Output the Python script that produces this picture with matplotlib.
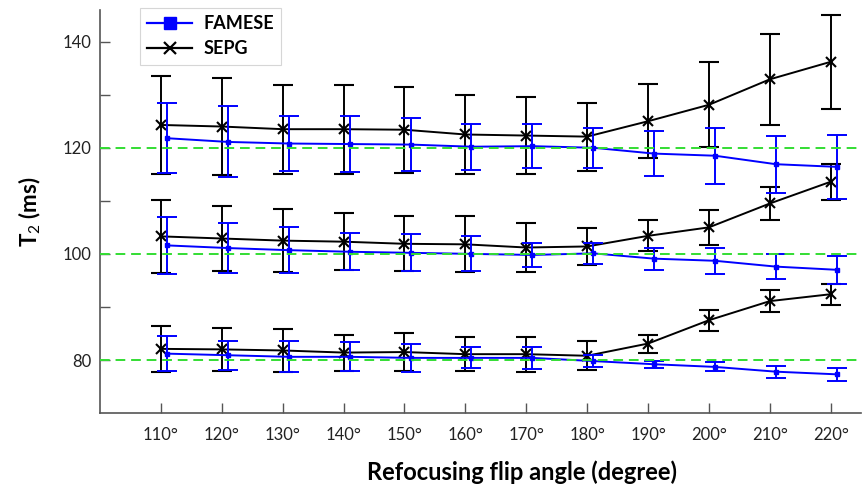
import numpy as np
import matplotlib
matplotlib.use("Agg")
import matplotlib.pyplot as plt
from matplotlib.lines import Line2D

plt.rcParams["font.family"] = ["Lato", "DejaVu Sans"]
plt.rcParams["mathtext.fontset"] = "custom"
plt.rcParams["mathtext.rm"] = "Lato"
plt.rcParams["mathtext.bf"] = "Lato:bold"

angles = [110, 120, 130, 140, 150, 160, 170, 180, 190, 200, 210, 220]
tick_labels = [f"{a}°" for a in angles]
references = [80, 100, 120]

# FAMESE means / std for the three reference T2 values
famese_80 = [81.2, 80.9, 80.6, 80.6, 80.4, 80.4, 80.4, 79.8, 79.2, 78.7, 77.8, 77.3]
famese_80_err = [3.3, 2.7, 2.9, 2.7, 2.6, 2.0, 2.1, 1.2, 0.7, 0.85, 1.1, 1.2]
famese_100 = [101.6, 101.1, 100.7, 100.4, 100.2, 100.0, 99.8, 100.1, 99.1, 98.7, 97.6, 97.0]
famese_100_err = [5.4, 4.7, 4.3, 3.5, 3.5, 3.3, 2.3, 2.0, 2.1, 2.4, 2.4, 2.6]
famese_120 = [121.8, 121.1, 120.8, 120.7, 120.6, 120.2, 120.3, 120.0, 118.9, 118.5, 116.9, 116.4]
famese_120_err = [6.6, 6.7, 5.2, 5.3, 5.0, 4.3, 4.2, 3.8, 4.3, 5.3, 5.4, 6.0]

# SEPG means / std
sepg_80 = [82.1, 82.0, 81.8, 81.4, 81.5, 81.1, 81.1, 80.8, 83.1, 87.5, 91.1, 92.4]
sepg_80_err = [4.4, 4.0, 4.0, 3.4, 3.6, 3.2, 3.3, 2.7, 1.7, 2.0, 2.0, 2.0]
sepg_100 = [103.3, 102.9, 102.5, 102.3, 101.9, 101.8, 101.2, 101.4, 103.4, 105.0, 109.5, 113.6]
sepg_100_err = [6.9, 6.2, 6.0, 5.4, 5.2, 5.3, 4.7, 3.5, 2.9, 3.3, 3.1, 3.4]
sepg_120 = [124.3, 124.0, 123.5, 123.5, 123.4, 122.5, 122.3, 122.1, 125.0, 128.1, 132.9, 136.2]
sepg_120_err = [9.3, 9.2, 8.4, 8.4, 8.1, 7.5, 7.3, 6.4, 7.0, 8.0, 8.6, 8.9]

x = np.array(angles)
blue = "#0000ff"

fig = plt.figure(figsize=(8.65, 4.9), dpi=100)
ax = fig.add_axes([0.1156, 0.157, 0.88, 0.823])

sepg = [(sepg_80, sepg_80_err), (sepg_100, sepg_100_err), (sepg_120, sepg_120_err)]
famese = [(famese_80, famese_80_err), (famese_100, famese_100_err), (famese_120, famese_120_err)]

for m, e in sepg:
    ax.errorbar(x, m, yerr=e, color="black", marker="x", markersize=7, mew=1.5,
                lw=1.4, elinewidth=1.4, capsize=7, capthick=1.4, zorder=2)
for m, e in famese:
    ax.errorbar(x + 1, m, yerr=e, color=blue, marker="s", markersize=3.5,
                lw=1.4, elinewidth=1.4, capsize=7, capthick=1.4, zorder=3)

for r in references:
    ax.axhline(r, color="#33dd33", ls=(0, (5, 3)), lw=1.4, zorder=4)

ax.set_xlim(100, 225)
ax.set_ylim(70, 146)
ax.set_xticks(x)
ax.set_xticklabels(tick_labels)
ax.set_yticks([80, 90, 100, 110, 120, 130, 140])
ax.set_yticklabels(["80", "", "100", "", "120", "", "140"])
ax.tick_params(direction="in", length=7, width=1, color="#555555",
               labelsize=12, labelcolor="#222222", pad=6)
ax.tick_params(axis="x", pad=10)

for s in ["top", "right"]:
    ax.spines[s].set_visible(False)
for s in ["left", "bottom"]:
    ax.spines[s].set_color("#555555")
    ax.spines[s].set_linewidth(1.2)

ax.set_xlabel("Refocusing flip angle (degree)", fontsize=17, fontweight="bold")
ax.xaxis.set_label_coords(0.555, -0.118)
ax.set_ylabel(r"$\mathbf{T}_{2}$ (ms)", fontsize=16, fontweight="bold", labelpad=14)

handles = [
    Line2D([], [], color=blue, marker="s", markersize=8, lw=1.6),
    Line2D([], [], color="black", marker="x", markersize=8, mew=1.6, lw=1.6),
]
leg = fig.legend(handles, ["FAMESE", "SEPG"], loc="upper left",
                 bbox_to_anchor=(140 / 865, 1 - 8 / 490), borderaxespad=0,
                 prop={"weight": "bold", "size": 13}, fancybox=False,
                 edgecolor="#cccccc", handlelength=2.5, handletextpad=0.6,
                 borderpad=0.4, labelspacing=0.45)
leg.get_frame().set_linewidth(0.8)

fig.savefig("out.png", dpi=100)
